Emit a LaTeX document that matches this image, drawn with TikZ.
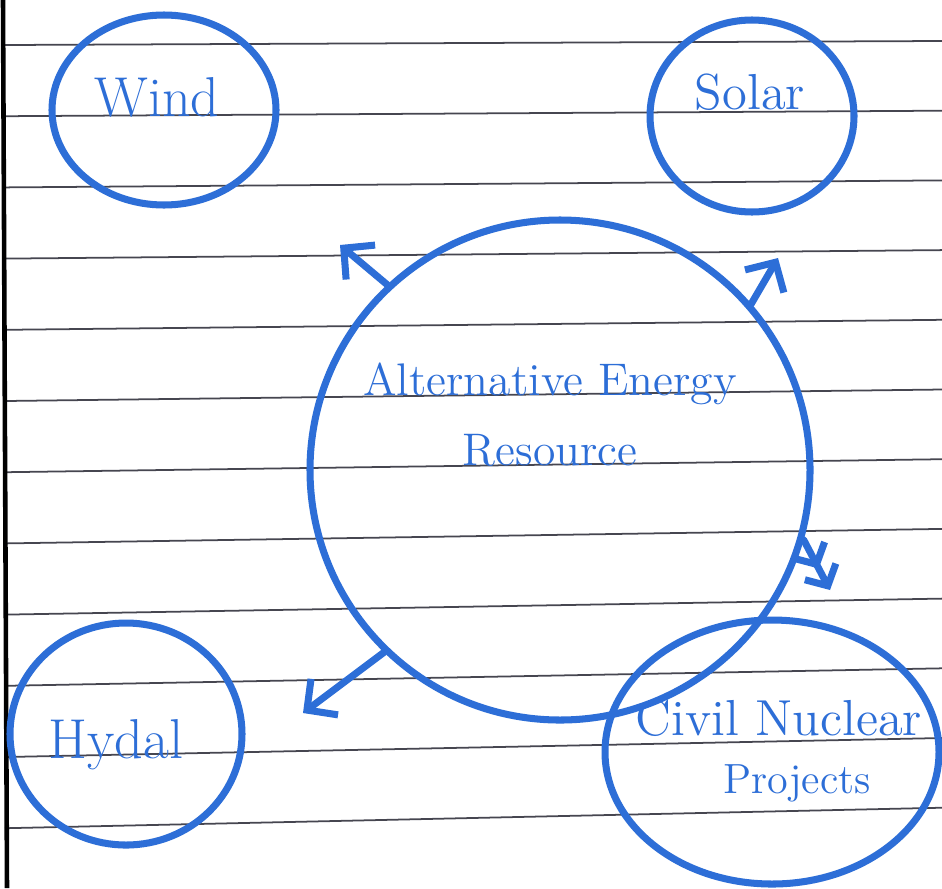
\documentclass[tikz,border=0pt]{standalone}
\usetikzlibrary{shapes.geometric,arrows.meta}

\definecolor{ink}{RGB}{45,110,215}
\definecolor{rule}{RGB}{70,70,80}

\tikzset{
	ring/.style={draw=ink, line width=2pt, ellipse, inner sep=0pt},
	hand/.style={text=ink, font=\Large, inner sep=0pt},
	arr/.style={draw=ink, line width=2pt, line cap=round, -{Straight Barb[length=2.2mm,width=4.5mm]}},
	arrtwo/.style={draw=ink, line width=2pt, line cap=round, -{Straight Barb[length=1.6mm,width=3.5mm] Straight Barb[length=1.6mm,width=3.5mm]}}
}

\begin{document}
	\begin{tikzpicture}
		\useasboundingbox ( 0.00, 0.00 ) rectangle ( 9.42, 8.88 );
		\fill [white] ( 0.00, 0.00 ) rectangle ( 9.42, 8.88 );

		% линии листа
		\foreach \i in {0,...,11}
			\draw [rule, line width=0.5pt] ( 0.05, 8.43-0.712*\i ) -- ( 9.42, 8.47-0.697*\i );
		\draw [black, line width=1.3pt] ( 0.03, 8.88 ) -- ( 0.07, 0.00 );

		% ветер
		\node [ring, minimum width=2.24cm, minimum height=1.90cm] (wind) at ( 1.64, 7.78 ) {};
		\node [hand, font=\fontsize{16}{19}\selectfont] (windtxt) at ( 1.57, 7.91 ) {Wind};

		% солнце
		\node [ring, minimum width=2.04cm, minimum height=1.92cm] (solar) at ( 7.52, 7.72 ) {};
		\node [hand] (solartxt) at ( 7.50, 7.96 ) {Solar};

		% центр
		\node [ring, circle, minimum size=5.0cm] (res) at ( 5.60, 4.18 ) {};
		\node [hand, font=\fontsize{13}{16}\selectfont, align=center] (restxt) at ( 5.50, 4.73 ) {Alternative Energy\\[4pt]Resource};

		% вода
		\node [ring, minimum width=2.32cm, minimum height=2.22cm] (hydal) at ( 1.26, 1.54 ) {};
		\node [hand, font=\fontsize{16}{19}\selectfont] (hydaltxt) at ( 1.16, 1.43 ) {Hydal};

		% атом
		\node [ring, minimum width=3.34cm, minimum height=2.64cm] (nuclear) at ( 7.72, 1.36 ) {};
		\node [hand] (nucleartxt) at ( 7.79, 1.70 ) {Civil Nuclear};
		\node [hand, font=\large] (projtxt) at ( 7.97, 1.05 ) {Projects};

		% стрелки
		\coordinate (windtip) at ( 3.40, 6.43 );
		\coordinate (solartip) at ( 7.78, 6.30 );
		\coordinate (nucleartip) at ( 8.30, 2.98 );
		\coordinate (hydaltip) at ( 3.03, 1.75 );
		\draw [arr] (res.133) -- (windtip);
		\draw [arr] (res.41) -- (solartip);
		\draw [arrtwo] (res.-16) -- (nucleartip);
		\draw [arr] (res.-134) -- (hydaltip);
	\end{tikzpicture}
\end{document}
